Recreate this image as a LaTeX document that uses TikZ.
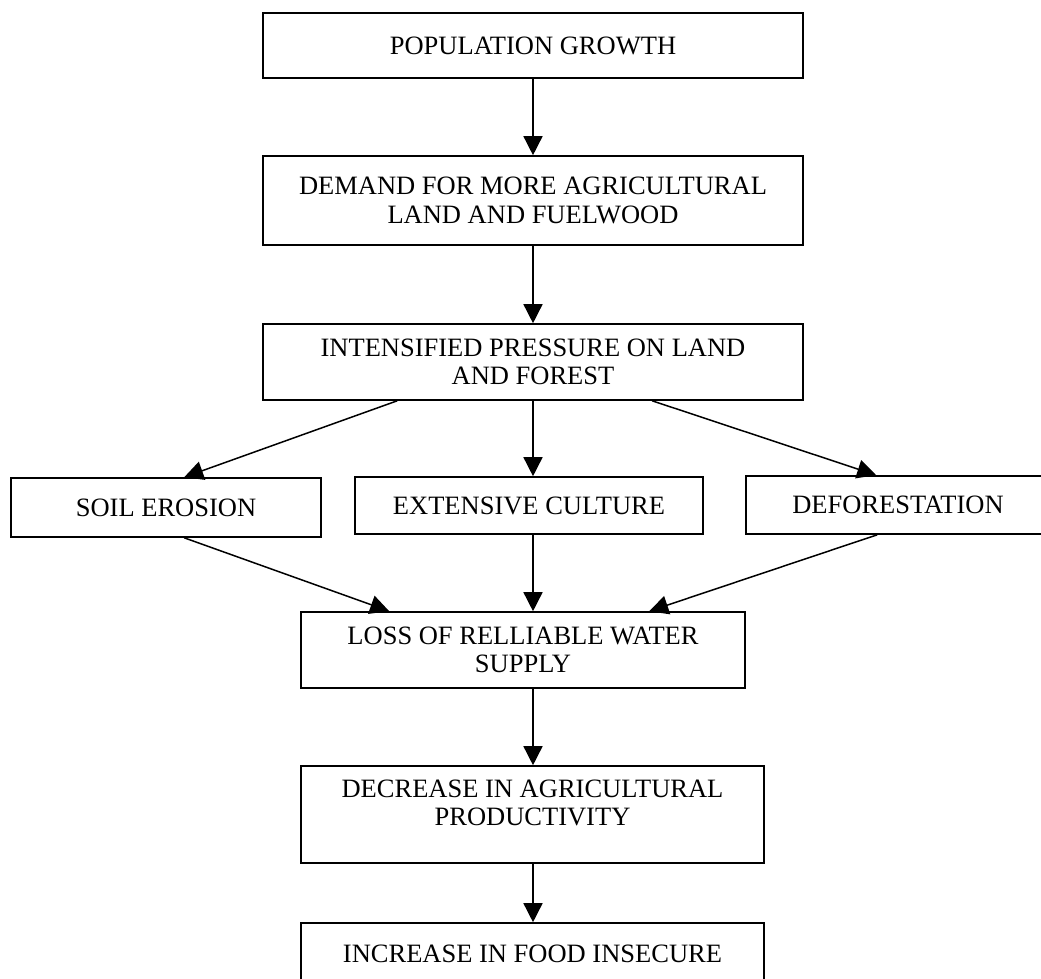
\documentclass[tikz,border=0pt]{standalone}
\usepackage{fontspec}
\setmainfont{Liberation Serif}
\usetikzlibrary{arrows.meta,calc}
\tikzset{
  box/.style={draw, line width=1.6pt, rectangle, inner sep=0pt, align=center,
    font=\fontsize{26.5}{28.5}\selectfont},
  arr/.style={line width=1.5pt, -{Triangle[length=19pt,width=19pt]}}
}
\begin{document}
\begin{tikzpicture}[x=1pt,y=-1pt]
\useasboundingbox (0,0) rectangle (1041,979);
\clip (0,0) rectangle (1041,979);
\node[box, minimum width=540pt, minimum height=65pt] (b1) at (533,45.5) {POPULATION GROWTH};
\node[box, minimum width=540pt, minimum height=89pt] (b2) at (533,200.5) {DEMAND FOR MORE AGRICULTURAL\\LAND AND FUELWOOD};
\node[box, minimum width=540pt, minimum height=76pt] (b3) at (533,362) {INTENSIFIED PRESSURE ON LAND\\AND FOREST};
\node[box, minimum width=310pt, minimum height=59pt] (soil) at (166,507.5) {SOIL EROSION};
\node[box, minimum width=348pt, minimum height=57pt] (ext) at (529,505.5) {EXTENSIVE CULTURE};
\node[box, minimum width=304pt, minimum height=58pt] (defo) at (898,505) {DEFORESTATION};
\node[box, minimum width=444pt, minimum height=76pt] (loss) at (523,650) {LOSS OF RELLIABLE WATER\\SUPPLY};
\node[box, minimum width=463pt, minimum height=97pt] (dec) at (532.5,814.5) {DECREASE IN AGRICULTURAL\\PRODUCTIVITY\\[-4.5pt]};
\node[box, minimum width=463pt, minimum height=62pt] (inc) at (532.5,954) {INCREASE IN FOOD INSECURE};

\draw[arr] (b1.south) -- (b2.north);
\draw[arr] (b2.south) -- (b3.north);
\draw[arr] ($(b3.south west)+(135,0)$) -- ($(soil.north west)+(174,0)$);
\draw[arr] (b3.south) -- (b3.south |- ext.north);
\draw[arr] ($(b3.south west)+(390,0)$) -- ($(defo.north west)+(131,0)$);
\draw[arr] ($(soil.south west)+(174,0)$) -- ($(loss.north west)+(89,0)$);
\draw[arr] (b3.south |- ext.south) -- (b3.south |- loss.north);
\draw[arr] ($(defo.south west)+(132,0)$) -- ($(loss.north west)+(349,0)$);
\draw[arr] (b3.south |- loss.south) -- (b3.south |- dec.north);
\draw[arr] (b3.south |- dec.south) -- (b3.south |- inc.north);
\end{tikzpicture}
\end{document}
